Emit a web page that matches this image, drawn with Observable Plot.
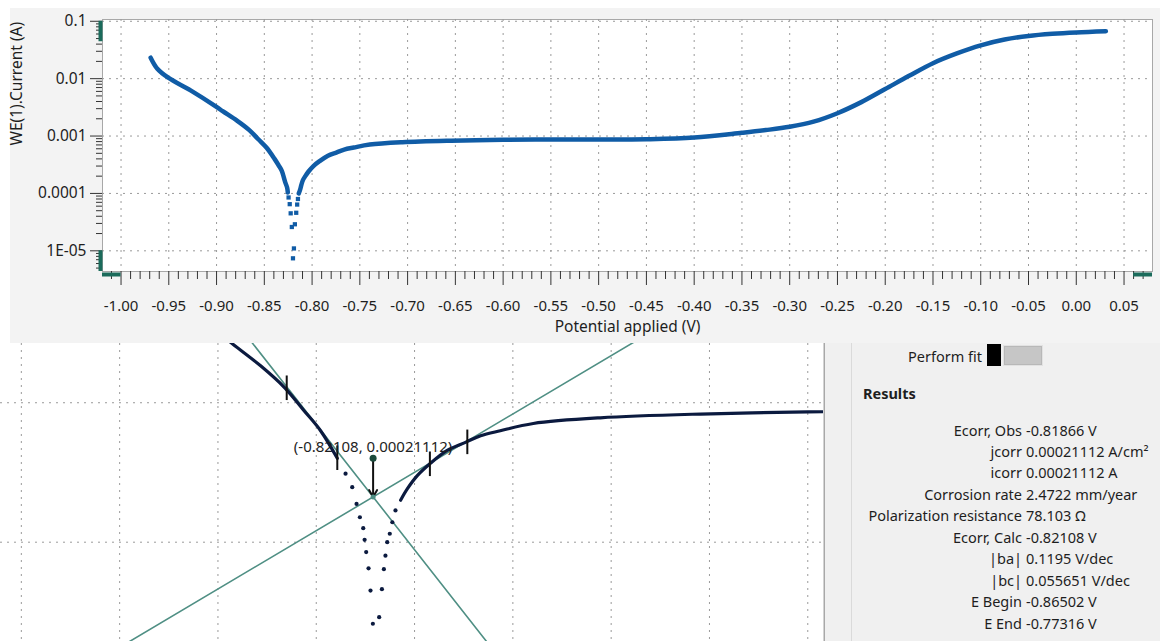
<!DOCTYPE html>
<html><head><meta charset="utf-8">
<script src="https://cdn.jsdelivr.net/npm/d3@7"></script>
<script src="https://cdn.jsdelivr.net/npm/@observablehq/plot@0.6"></script>
<style>
html,body{margin:0;padding:0;background:#fff;}
#root{position:relative;width:1160px;height:641px;overflow:hidden;font-family:"Noto Sans",sans-serif;color:#1e1e1e;}
#topbg{position:absolute;left:10px;top:8px;width:1150px;height:335px;background:#f3f3f3;}
#top{position:absolute;left:0;top:8px;}
#bottom{position:absolute;left:0;top:343px;}
#panel{position:absolute;left:825px;top:343px;width:335px;height:298px;background:#f0f0f0;}
#panel .sep{position:absolute;left:26px;top:0;width:1px;height:298px;background:#dadada;}
#panel .pf{position:absolute;right:178px;top:13px;transform:translateY(-50%);font-size:14.5px;white-space:nowrap;}
#panel .sq{position:absolute;left:162px;top:1px;width:14px;height:22px;background:#000;}
#panel .tg{position:absolute;left:178px;top:2px;width:38px;height:19px;background:#c6c6c6;border:1px solid #e2e2e2;box-shadow:inset 0 0 0 1px #b8b8b8;}
#panel .res{position:absolute;left:38px;top:50px;transform:translateY(-50%);font-size:14.5px;font-weight:bold;}
#panel .lab{position:absolute;right:138px;transform:translateY(-50%);font-size:14.5px;white-space:nowrap;}
#panel .val{position:absolute;left:201px;transform:translateY(-50%);font-size:14.5px;white-space:nowrap;}
</style></head>
<body>
<div id="root">
  <div id="topbg"></div>
  <div id="top"></div>
  <div id="bottom"></div>
  <div id="panel"></div>
</div>
<script>
// ---- measured polarization curve (potential V, current A) ----
const cathodicE = [-0.969, -0.962, -0.9506, -0.9272, -0.8993, -0.8936, -0.8783, -0.866, -0.8563, -0.8478, -0.8393, -0.8351, -0.8317, -0.8295, -0.8278, -0.8261, -0.8254, -0.8246, -0.8234, -0.8224, -0.8212, -0.8200];
const cathodicI = [0.0232, 0.0149, 0.0104, 0.00626, 0.00316, 0.00271, 0.00184, 0.00128, 0.00088, 0.00063, 0.00040, 0.00031, 0.000248, 0.000188, 0.000151, 0.000126, 0.000104, 0.000085, 0.000065, 0.000045, 0.000026, 0.0000074];
const anodicE = [-0.8190, -0.8180, -0.8166, -0.8156, -0.8148, -0.8139, -0.8126, -0.8113, -0.8097, -0.8071, -0.8037, -0.7986, -0.7922, -0.7834, -0.7741, -0.7664, -0.7564, -0.7396, -0.7055, -0.6546, -0.60, -0.55, -0.50, -0.45, -0.40, -0.35, -0.325, -0.30, -0.275, -0.25, -0.225, -0.20, -0.175, -0.15, -0.125, -0.10, -0.075, -0.05, -0.025, 0.00, 0.031];
const anodicI = [0.000011, 0.000029, 0.000046, 0.000064, 0.000080, 0.000100, 0.000115, 0.000139, 0.000169, 0.000200, 0.000241, 0.000300, 0.000365, 0.000455, 0.000520, 0.000580, 0.000630, 0.000710, 0.000780, 0.000830, 0.000860, 0.000870, 0.000870, 0.000880, 0.000940, 0.00114, 0.00127, 0.00145, 0.00178, 0.0025, 0.0039, 0.0066, 0.0112, 0.0186, 0.0275, 0.038, 0.048, 0.0555, 0.0605, 0.064, 0.067];

// ---- Tafel fit results ----
const ecorrCalc = -0.82108;
const icorrFit = 0.00021112;
const baFit = 0.1195;
const bcFit = 0.055651;
const fitMarkerE = [-0.86502, -0.8393, -0.7922, -0.77316];
const fitMarkerI = [0.00127, 0.00040, 0.000362, 0.00052];
const annotI = 0.00040;
const annotLabel = "(-0.82108, 0.00021112)";

const resultLabels = ["Ecorr, Obs", "jcorr", "icorr", "Corrosion rate", "Polarization resistance", "Ecorr, Calc", "|ba|", "|bc|", "E Begin", "E End"];
const resultValues = ["-0.81866 V", "0.00021112 A/cm\u00b2", "0.00021112 A", "2.4722 mm/year", "78.103 \u03a9", "-0.82108 V", "0.1195 V/dec", "0.055651 V/dec", "-0.86502 V", "-0.77316 V"];

// ---- axes ----
const xTicks = [-1.00, -0.95, -0.90, -0.85, -0.80, -0.75, -0.70, -0.65, -0.60, -0.55, -0.50, -0.45, -0.40, -0.35, -0.30, -0.25, -0.20, -0.15, -0.10, -0.05, 0.00, 0.05];
const xTickLabels = ["-1.00", "-0.95", "-0.90", "-0.85", "-0.80", "-0.75", "-0.70", "-0.65", "-0.60", "-0.55", "-0.50", "-0.45", "-0.40", "-0.35", "-0.30", "-0.25", "-0.20", "-0.15", "-0.10", "-0.05", "0.00", "0.05"];
const yTicks = [0.1, 0.01, 0.001, 0.0001, 0.00001];
const yTickLabels = ["0.1", "0.01", "0.001", "0.0001", "1E-05"];
const xLabel = "Potential applied (V)";
const yLabel = "WE(1).Current (A)";
const zoomGridX = [-1.00, -0.95, -0.90, -0.85, -0.80, -0.75, -0.70, -0.65, -0.60];
const zoomGridY = [0.001, 0.0001];

const cathodic = cathodicE.map((E, i) => ({E, I: cathodicI[i]}));
const anodic = anodicE.map((E, i) => ({E, I: anodicI[i]}));
const markers = fitMarkerE.map((E, i) => ({E, I: fitMarkerI[i]}));

const blue = "#105ca6";
const navy = "#0b1a3f";
const teal = "#4f8f84";
const handle = "#1b6b5b";
const gridStyle = {stroke: "#9a9a9a", strokeOpacity: 1, strokeDasharray: "2,5"};

const xDom = [-1.0194, 0.0798];
const yDom = [4.36e-6, 0.1074];
const xLab = new Map(xTicks.map((d, i) => [d.toFixed(2), xTickLabels[i]]));
const yLab = new Map(yTicks.map((d, i) => [d, yTickLabels[i]]));
const xMinor = d3.range(-101, 8).filter(i => i % 5 !== 0).map(i => i / 100);
const yMinor = [];
for (let k = -6; k <= -1; k++) for (let m = 2; m <= 9; m++) { const v = m * Math.pow(10, k); if (v > yDom[0] && v < yDom[1]) yMinor.push(v); }

const topPlot = Plot.plot({
  width: 1160, height: 335,
  marginLeft: 102, marginTop: 11, marginRight: 8, marginBottom: 72,
  style: {background: "transparent", fontFamily: "'Noto Sans', sans-serif", fontSize: "15px", color: "#1e1e1e", overflow: "visible"},
  x: {type: "linear", domain: xDom},
  y: {type: "log", domain: yDom},
  marks: [
    Plot.frame({fill: "white", stroke: "#a8a8a8"}),
    Plot.gridX(xTicks, gridStyle),
    Plot.gridY(yTicks, gridStyle),
    Plot.axisX(xMinor, {anchor: "bottom", tickSize: 8, tickFormat: () => "", stroke: "#333", label: null}),
    Plot.axisX(xTicks, {anchor: "bottom", tickSize: 14, tickPadding: 15, tickFormat: d => xLab.get(d.toFixed(2)), stroke: "#333", fontSize: 15, label: null}),
    Plot.axisY(yMinor, {anchor: "left", tickSize: 6, tickFormat: () => "", stroke: "#333", label: null}),
    Plot.axisY(yTicks, {anchor: "left", tickSize: 12, tickPadding: 4, tickFormat: d => yLab.get(d), stroke: "#333", fontSize: 15.5, label: null}),
    Plot.line(cathodic.filter(d => d.I >= 1e-4), {x: "E", y: "I", stroke: blue, strokeWidth: 4.5, curve: "catmull-rom"}),
    Plot.line(anodic.filter(d => d.I >= 1e-4), {x: "E", y: "I", stroke: blue, strokeWidth: 4.5, curve: "catmull-rom"}),
    Plot.dot(cathodic.concat(anodic).filter(d => d.I < 1e-4), {x: "E", y: "I", r: 2.4, symbol: "square", fill: blue}),
    Plot.ruleX([xDom[0]], {y1: 0.1, y2: 0.044, stroke: handle, strokeWidth: 4, dx: -2}),
    Plot.ruleX([xDom[0]], {y1: 0.00001, y2: yDom[0], stroke: handle, strokeWidth: 4, dx: -2}),
    Plot.ruleY([yDom[0]], {x1: xDom[0], x2: -1.00, stroke: handle, strokeWidth: 4, dy: 3}),
    Plot.ruleY([yDom[0]], {x1: 0.06, x2: xDom[1], stroke: handle, strokeWidth: 4, dy: 3}),
    Plot.text([xLabel], {frameAnchor: "bottom", dy: 56, lineAnchor: "middle", fontSize: 15.5, fill: "#1e1e1e"}),
    Plot.text([yLabel], {frameAnchor: "left", dx: -85.5, rotate: -90, lineAnchor: "middle", fontSize: 15.5, fill: "#1e1e1e"})
  ]
});
document.getElementById("top").appendChild(topPlot);

// ---- zoomed Tafel view ----
const zxDom = [-1.0106, -0.592];
const zyDom = [1.94e-5, 2.66e-3];
const tafelC = [-0.92, -0.72].map(E => ({E, I: icorrFit * Math.pow(10, -(E - ecorrCalc) / bcFit)}));
const tafelA = [-1.05, -0.62].map(E => ({E, I: icorrFit * Math.pow(10, (E - ecorrCalc) / baFit)}));
const sparse = cathodic.filter(d => d.E > -0.8393).concat(anodic.filter(d => d.E < -0.8071));

const bottomPlot = Plot.plot({
  width: 825, height: 298,
  marginLeft: 0, marginTop: 0, marginRight: 2, marginBottom: 0,
  style: {background: "white", fontFamily: "'Noto Sans', sans-serif", color: "#1e1e1e"},
  x: {type: "linear", domain: zxDom, axis: null},
  y: {type: "log", domain: zyDom, axis: null},
  marks: [
    Plot.gridX(zoomGridX, gridStyle),
    Plot.gridY(zoomGridY, gridStyle),
    Plot.line(tafelC, {x: "E", y: "I", stroke: teal, strokeWidth: 1.6, clip: true}),
    Plot.line(tafelA, {x: "E", y: "I", stroke: teal, strokeWidth: 1.6, clip: true}),
    Plot.line(cathodic.filter(d => d.E <= -0.8393), {x: "E", y: "I", stroke: navy, strokeWidth: 3.2, curve: "catmull-rom", clip: true}),
    Plot.line(anodic.filter(d => d.E >= -0.8071), {x: "E", y: "I", stroke: navy, strokeWidth: 3.2, curve: "catmull-rom", clip: true}),
    Plot.dot(sparse, {x: "E", y: "I", r: 2.1, fill: navy, clip: true}),
    Plot.ruleX(markers, {x: "E", y1: d => d.I / 1.225, y2: d => d.I * 1.225, stroke: "#111", strokeWidth: 2}),
    Plot.arrow([{x1: ecorrCalc, y1: annotI, x2: ecorrCalc, y2: icorrFit}], {x1: "x1", y1: "y1", x2: "x2", y2: "y2", stroke: "#111", strokeWidth: 2, headLength: 6}),
    Plot.dot([{E: ecorrCalc, I: annotI}], {x: "E", y: "I", r: 3.5, fill: "#1b4a3c"}),
    Plot.dot([{E: ecorrCalc, I: icorrFit}], {x: "E", y: "I", r: 2.5, fill: teal}),
    Plot.text([{E: ecorrCalc, I: annotI}], {x: "E", y: "I", text: () => annotLabel, dy: -11, fontSize: 15, fill: "#1e1e1e", lineAnchor: "middle"}),
    Plot.ruleX([zxDom[1]], {stroke: "#a8a8a8", strokeWidth: 2, dx: 1})
  ]
});
document.getElementById("bottom").appendChild(bottomPlot);

// ---- results panel ----
const panel = document.getElementById("panel");
let html = '<div class="sep"></div><div class="pf">Perform fit</div><div class="sq"></div><div class="tg"></div><div class="res">Results</div>';
resultLabels.forEach((l, i) => {
  const y = 86.5 + 21.45 * i;
  html += `<div class="lab" style="top:${y}px">${l}</div><div class="val" style="top:${y}px">${resultValues[i]}</div>`;
});
panel.innerHTML = html;
</script>
</body></html>
